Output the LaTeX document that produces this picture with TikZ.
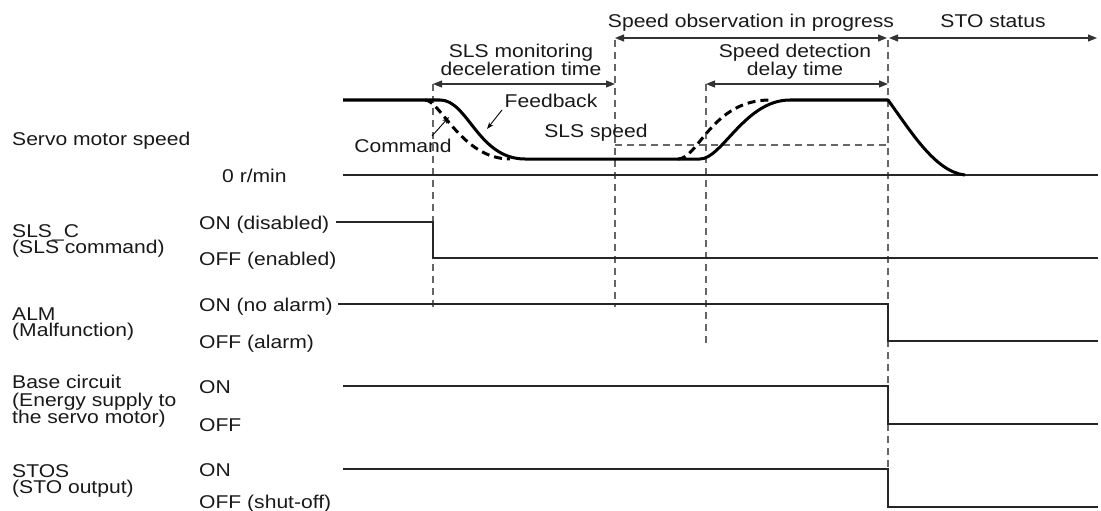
\documentclass[tikz,border=0pt]{standalone}
\usepackage{fontspec}
\setmainfont{Liberation Sans}[FakeStretch=1.14]
\usetikzlibrary{arrows.meta}
\begin{document}
\begin{tikzpicture}[x=1pt,y=-1pt]
\tikzset{
 txt/.style={font=\fontsize{18.5}{17.5}\selectfont, inner sep=0pt, text=black!90},
 sig/.style={line width=1.4pt, black!85},
 curve/.style={line width=3pt, black, line join=round},
 cmd/.style={line width=3pt, black, dash pattern=on 8pt off 5pt},
 guide/.style={line width=1.2pt, black!60, dash pattern=on 7pt off 5pt},
 tipA/.tip={Triangle[length=9pt,width=7pt]},
 dim/.style={line width=1.1pt, black!80, tipA-tipA},
 call/.style={line width=0.9pt, black, -{Stealth[length=7pt,width=5pt]}}
}
\useasboundingbox (0,0) rectangle (1101,511);

% left group labels
\node[txt, anchor=base west] (servo) at (12,145) {Servo motor speed};
\node[txt, anchor=base west] (slsA) at (12,237) {SLS\_C};
\node[txt, anchor=base west] (slsB) at (12,253) {(SLS command)};
\node[txt, anchor=base west] (almA) at (12,320) {ALM};
\node[txt, anchor=base west] (almB) at (12,336) {(Malfunction)};
\node[txt, anchor=base west] (baseA) at (12,388) {Base circuit};
\node[txt, anchor=base west] (baseB) at (12,406) {(Energy supply to};
\node[txt, anchor=base west] (baseC) at (12,423) {the servo motor)};
\node[txt, anchor=base west] (stosA) at (12,477) {STOS};
\node[txt, anchor=base west] (stosB) at (12,493) {(STO output)};

% level labels
\node[txt, anchor=base west] (zero) at (222,182) {0 r/min};
\node[txt, anchor=base west] (slsOn) at (199,229) {ON (disabled)};
\node[txt, anchor=base west] (slsOff) at (199,265) {OFF (enabled)};
\node[txt, anchor=base west] (almOn) at (199,311) {ON (no alarm)};
\node[txt, anchor=base west] (almOff) at (199,348) {OFF (alarm)};
\node[txt, anchor=base west] (baseOn) at (199,393) {ON};
\node[txt, anchor=base west] (baseOff) at (199,431) {OFF};
\node[txt, anchor=base west] (stosOn) at (199,476) {ON};
\node[txt, anchor=base west] (stosOff) at (199,508) {OFF (shut-off)};

% top labels
\node[txt, anchor=base] (obs) at (751,28) {Speed observation in progress};
\node[txt, anchor=base] (sto) at (993,28) {STO status};
\node[txt, anchor=base] (monA) at (521,58) {SLS monitoring};
\node[txt, anchor=base] (monB) at (521,76) {deceleration time};
\node[txt, anchor=base] (detA) at (795,58) {Speed detection};
\node[txt, anchor=base] (detB) at (795,76) {delay time};

% guide lines
\draw[guide] (433,84) -- (433,307);
\draw[guide] (615,40) -- (615,307);
\draw[guide] (706,84) -- (706,343);
\draw[guide] (888,40) -- (888,469);
\draw[guide] (615,145) -- (888,145);

% dimension arrows
\draw[dim] (615,38) -- (887,38);
\draw[dim] (889,38) -- (1097,38);
\draw[dim] (433,84) -- (615,84);
\draw[dim] (706,84) -- (888,84);

% signals
\draw[sig] (343,175) -- (1098,175);
\draw[sig] (336,222) -- (433,222) -- (433,258) -- (1098,258);
\draw[sig] (338,304) -- (888,304) -- (888,341) -- (1098,341);
\draw[sig] (343,386) -- (888,386) -- (888,424) -- (1098,424);
\draw[sig] (343,469) -- (888,469) -- (888,507) -- (1098,507);

% speed curves
\draw[curve] (343,100) -- (440,100) .. controls (468,100) and (478,159) .. (525,159)
  -- (700,159) .. controls (722,159) and (745,100) .. (790,100) -- (888,100)
  .. controls (910,130) and (935,172) .. (965,175);
\draw[cmd] (425,100) .. controls (440,100) and (462,159) .. (510,159);
\draw[cmd] (678,159) .. controls (698,159) and (712,100) .. (770,100);

% callouts
\node[txt, anchor=base] (fb) at (551,107) {Feedback};
\node[txt, anchor=base] (cm) at (403,152) {Command};
\node[txt, anchor=base] (spd) at (596,137) {SLS speed};
\draw[call] (502,110) -- (487,129);
\draw[call] (432,136) -- (449,117);
\end{tikzpicture}
\end{document}
